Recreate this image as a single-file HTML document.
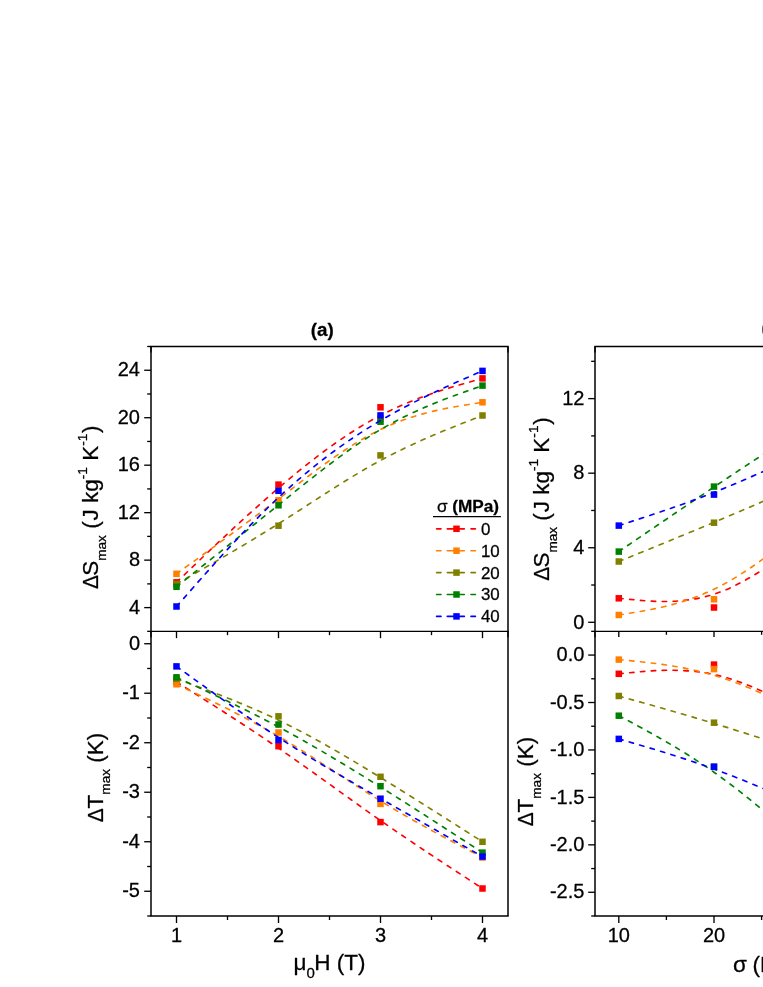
<!DOCTYPE html>
<html><head><meta charset="utf-8"><title>chart</title>
<style>html,body{margin:0;padding:0;background:#fff;}body{width:763px;height:987px;position:relative;overflow:hidden;font-family:"Liberation Sans",sans-serif;}</style>
</head><body>
<svg width="763" height="987" viewBox="0 0 763 987" style="position:absolute;left:0;top:0;will-change:transform;font-family:'Liberation Sans',sans-serif"><style>text{stroke:#000;stroke-width:0.28px;stroke-linejoin:round}</style>
<path d="M176.50,582.30 C176.50,582.30 176.50,582.30 193.50,566.02 C210.50,549.73 244.50,517.17 278.50,488.00 C312.50,458.83 346.50,433.07 380.50,415.37 C414.50,397.67 448.50,388.03 465.50,383.22 C482.50,378.40 482.50,378.40 482.50,378.40" fill="none" stroke="#FF0000" stroke-width="1.65" stroke-linecap="round" stroke-dasharray="4.4 6.5"/>
<rect x="173.25" y="579.05" width="6.5" height="6.5" fill="#FF0000"/>
<rect x="275.25" y="481.35" width="6.5" height="6.5" fill="#FF0000"/>
<rect x="377.25" y="404.05" width="6.5" height="6.5" fill="#FF0000"/>
<rect x="479.25" y="375.15" width="6.5" height="6.5" fill="#FF0000"/>
<path d="M176.50,573.80 C176.50,573.80 176.50,573.80 193.50,561.55 C210.50,549.30 244.50,524.80 278.50,498.93 C312.50,473.07 346.50,445.83 380.50,429.50 C414.50,413.17 448.50,407.73 465.50,405.02 C482.50,402.30 482.50,402.30 482.50,402.30" fill="none" stroke="#FF8000" stroke-width="1.65" stroke-linecap="round" stroke-dasharray="4.4 6.5"/>
<rect x="173.25" y="570.55" width="6.5" height="6.5" fill="#FF8000"/>
<rect x="275.25" y="497.05" width="6.5" height="6.5" fill="#FF8000"/>
<rect x="377.25" y="415.35" width="6.5" height="6.5" fill="#FF8000"/>
<rect x="479.25" y="399.05" width="6.5" height="6.5" fill="#FF8000"/>
<path d="M176.50,584.00 C176.50,584.00 176.50,584.00 193.50,574.28 C210.50,564.57 244.50,545.13 278.50,523.70 C312.50,502.27 346.50,478.83 380.50,460.47 C414.50,442.10 448.50,428.80 465.50,422.15 C482.50,415.50 482.50,415.50 482.50,415.50" fill="none" stroke="#808000" stroke-width="1.65" stroke-linecap="round" stroke-dasharray="4.4 6.5"/>
<rect x="173.25" y="580.75" width="6.5" height="6.5" fill="#808000"/>
<rect x="275.25" y="522.45" width="6.5" height="6.5" fill="#808000"/>
<rect x="377.25" y="452.15" width="6.5" height="6.5" fill="#808000"/>
<rect x="479.25" y="412.25" width="6.5" height="6.5" fill="#808000"/>
<path d="M176.50,586.80 C176.50,586.80 176.50,586.80 193.50,573.22 C210.50,559.63 244.50,532.47 278.50,504.95 C312.50,477.43 346.50,449.57 380.50,429.62 C414.50,409.67 448.50,397.63 465.50,391.62 C482.50,385.60 482.50,385.60 482.50,385.60" fill="none" stroke="#008000" stroke-width="1.65" stroke-linecap="round" stroke-dasharray="4.4 6.5"/>
<rect x="173.25" y="583.55" width="6.5" height="6.5" fill="#008000"/>
<rect x="275.25" y="502.05" width="6.5" height="6.5" fill="#008000"/>
<rect x="377.25" y="418.45" width="6.5" height="6.5" fill="#008000"/>
<rect x="479.25" y="382.35" width="6.5" height="6.5" fill="#008000"/>
<path d="M176.50,606.50 C176.50,606.50 176.50,606.50 193.50,587.22 C210.50,567.93 244.50,529.37 278.50,497.52 C312.50,465.67 346.50,440.53 380.50,420.55 C414.50,400.57 448.50,385.73 465.50,378.32 C482.50,370.90 482.50,370.90 482.50,370.90" fill="none" stroke="#0000FF" stroke-width="1.65" stroke-linecap="round" stroke-dasharray="4.4 6.5"/>
<rect x="173.25" y="603.25" width="6.5" height="6.5" fill="#0000FF"/>
<rect x="275.25" y="487.55" width="6.5" height="6.5" fill="#0000FF"/>
<rect x="377.25" y="412.15" width="6.5" height="6.5" fill="#0000FF"/>
<rect x="479.25" y="367.65" width="6.5" height="6.5" fill="#0000FF"/>
<path d="M176.50,682.00 C176.50,682.00 176.50,682.00 193.50,692.70 C210.50,703.40 244.50,724.80 278.50,748.15 C312.50,771.50 346.50,796.80 380.50,820.52 C414.50,844.23 448.50,866.37 465.50,877.43 C482.50,888.50 482.50,888.50 482.50,888.50" fill="none" stroke="#FF0000" stroke-width="1.65" stroke-linecap="round" stroke-dasharray="4.4 6.5"/>
<rect x="173.25" y="678.75" width="6.5" height="6.5" fill="#FF0000"/>
<rect x="275.25" y="742.95" width="6.5" height="6.5" fill="#FF0000"/>
<rect x="377.25" y="818.85" width="6.5" height="6.5" fill="#FF0000"/>
<rect x="479.25" y="885.25" width="6.5" height="6.5" fill="#FF0000"/>
<path d="M176.50,684.30 C176.50,684.30 176.50,684.30 193.50,692.33 C210.50,700.37 244.50,716.43 278.50,736.37 C312.50,756.30 346.50,780.10 380.50,800.93 C414.50,821.77 448.50,839.63 465.50,848.57 C482.50,857.50 482.50,857.50 482.50,857.50" fill="none" stroke="#FF8000" stroke-width="1.65" stroke-linecap="round" stroke-dasharray="4.4 6.5"/>
<rect x="173.25" y="681.05" width="6.5" height="6.5" fill="#FF8000"/>
<rect x="275.25" y="729.25" width="6.5" height="6.5" fill="#FF8000"/>
<rect x="377.25" y="800.65" width="6.5" height="6.5" fill="#FF8000"/>
<rect x="479.25" y="854.25" width="6.5" height="6.5" fill="#FF8000"/>
<path d="M176.50,678.85 C176.50,678.85 176.50,678.85 193.50,685.09 C210.50,691.33 244.50,703.82 278.50,720.14 C312.50,736.47 346.50,756.63 380.50,777.55 C414.50,798.47 448.50,820.13 465.50,830.97 C482.50,841.80 482.50,841.80 482.50,841.80" fill="none" stroke="#808000" stroke-width="1.65" stroke-linecap="round" stroke-dasharray="4.4 6.5"/>
<rect x="173.25" y="675.60" width="6.5" height="6.5" fill="#808000"/>
<rect x="275.25" y="713.05" width="6.5" height="6.5" fill="#808000"/>
<rect x="377.25" y="773.55" width="6.5" height="6.5" fill="#808000"/>
<rect x="479.25" y="838.55" width="6.5" height="6.5" fill="#808000"/>
<path d="M176.50,677.30 C176.50,677.30 176.50,677.30 193.50,685.17 C210.50,693.03 244.50,708.77 278.50,726.92 C312.50,745.07 346.50,765.63 380.50,786.98 C414.50,808.33 448.50,830.47 465.50,841.53 C482.50,852.60 482.50,852.60 482.50,852.60" fill="none" stroke="#008000" stroke-width="1.65" stroke-linecap="round" stroke-dasharray="4.4 6.5"/>
<rect x="173.25" y="674.05" width="6.5" height="6.5" fill="#008000"/>
<rect x="275.25" y="721.25" width="6.5" height="6.5" fill="#008000"/>
<rect x="377.25" y="782.95" width="6.5" height="6.5" fill="#008000"/>
<rect x="479.25" y="849.35" width="6.5" height="6.5" fill="#008000"/>
<path d="M176.50,666.40 C176.50,666.40 176.50,666.40 193.50,678.67 C210.50,690.93 244.50,715.47 278.50,737.52 C312.50,759.57 346.50,779.13 380.50,798.57 C414.50,818.00 448.50,837.30 465.50,846.95 C482.50,856.60 482.50,856.60 482.50,856.60" fill="none" stroke="#0000FF" stroke-width="1.65" stroke-linecap="round" stroke-dasharray="4.4 6.5"/>
<rect x="173.25" y="663.15" width="6.5" height="6.5" fill="#0000FF"/>
<rect x="275.25" y="736.75" width="6.5" height="6.5" fill="#0000FF"/>
<rect x="377.25" y="795.45" width="6.5" height="6.5" fill="#0000FF"/>
<rect x="479.25" y="853.35" width="6.5" height="6.5" fill="#0000FF"/>
<path d="M618.80,598.30 C618.80,598.30 618.80,598.30 634.67,599.83 C650.53,601.37 682.27,604.43 714.00,594.18 C745.73,583.92 777.47,560.33 809.20,536.75 C840.93,513.17 872.67,489.58 888.53,477.79 C904.40,466.00 904.40,466.00 904.40,466.00" fill="none" stroke="#FF0000" stroke-width="1.65" stroke-linecap="round" stroke-dasharray="4.4 6.5"/>
<rect x="615.55" y="595.05" width="6.5" height="6.5" fill="#FF0000"/>
<rect x="710.75" y="604.25" width="6.5" height="6.5" fill="#FF0000"/>
<path d="M618.80,615.00 C618.80,615.00 618.80,615.00 634.67,612.38 C650.53,609.77 682.27,604.53 714.00,589.25 C745.73,573.97 777.47,548.63 809.20,523.30 C840.93,497.97 872.67,472.63 888.53,459.97 C904.40,447.30 904.40,447.30 904.40,447.30" fill="none" stroke="#FF8000" stroke-width="1.65" stroke-linecap="round" stroke-dasharray="4.4 6.5"/>
<rect x="615.55" y="611.75" width="6.5" height="6.5" fill="#FF8000"/>
<rect x="710.75" y="596.05" width="6.5" height="6.5" fill="#FF8000"/>
<path d="M618.80,561.50 C618.80,561.50 618.80,561.50 634.67,555.03 C650.53,548.57 682.27,535.63 714.00,522.29 C745.73,508.95 777.47,495.20 809.20,481.45 C840.93,467.70 872.67,453.95 888.53,447.07 C904.40,440.20 904.40,440.20 904.40,440.20" fill="none" stroke="#808000" stroke-width="1.65" stroke-linecap="round" stroke-dasharray="4.4 6.5"/>
<rect x="615.55" y="558.25" width="6.5" height="6.5" fill="#808000"/>
<rect x="710.75" y="519.45" width="6.5" height="6.5" fill="#808000"/>
<path d="M618.80,551.60 C618.80,551.60 618.80,551.60 634.67,540.77 C650.53,529.93 682.27,508.27 714.00,487.02 C745.73,465.77 777.47,444.93 809.20,424.10 C840.93,403.27 872.67,382.43 888.53,372.02 C904.40,361.60 904.40,361.60 904.40,361.60" fill="none" stroke="#008000" stroke-width="1.65" stroke-linecap="round" stroke-dasharray="4.4 6.5"/>
<rect x="615.55" y="548.35" width="6.5" height="6.5" fill="#008000"/>
<rect x="710.75" y="483.35" width="6.5" height="6.5" fill="#008000"/>
<path d="M618.80,525.60 C618.80,525.60 618.80,525.60 634.67,520.43 C650.53,515.27 682.27,504.93 714.00,492.39 C745.73,479.85 777.47,465.10 809.20,450.35 C840.93,435.60 872.67,420.85 888.53,413.47 C904.40,406.10 904.40,406.10 904.40,406.10" fill="none" stroke="#0000FF" stroke-width="1.65" stroke-linecap="round" stroke-dasharray="4.4 6.5"/>
<rect x="615.55" y="522.35" width="6.5" height="6.5" fill="#0000FF"/>
<rect x="710.75" y="491.35" width="6.5" height="6.5" fill="#0000FF"/>
<path d="M618.80,673.80 C618.80,673.80 618.80,673.80 634.67,672.27 C650.53,670.73 682.27,667.67 714.00,674.51 C745.73,681.35 777.47,698.10 809.20,714.85 C840.93,731.60 872.67,748.35 888.53,756.73 C904.40,765.10 904.40,765.10 904.40,765.10" fill="none" stroke="#FF0000" stroke-width="1.65" stroke-linecap="round" stroke-dasharray="4.4 6.5"/>
<rect x="615.55" y="670.55" width="6.5" height="6.5" fill="#FF0000"/>
<rect x="710.75" y="661.35" width="6.5" height="6.5" fill="#FF0000"/>
<path d="M618.80,659.60 C618.80,659.60 618.80,659.60 634.67,661.18 C650.53,662.77 682.27,665.93 714.00,675.31 C745.73,684.68 777.47,700.27 809.20,715.85 C840.93,731.43 872.67,747.02 888.53,754.81 C904.40,762.60 904.40,762.60 904.40,762.60" fill="none" stroke="#FF8000" stroke-width="1.65" stroke-linecap="round" stroke-dasharray="4.4 6.5"/>
<rect x="615.55" y="656.35" width="6.5" height="6.5" fill="#FF8000"/>
<rect x="710.75" y="665.85" width="6.5" height="6.5" fill="#FF8000"/>
<path d="M618.80,696.00 C618.80,696.00 618.80,696.00 634.67,700.45 C650.53,704.90 682.27,713.80 714.00,723.46 C745.73,733.12 777.47,743.53 809.20,753.95 C840.93,764.37 872.67,774.78 888.53,779.99 C904.40,785.20 904.40,785.20 904.40,785.20" fill="none" stroke="#808000" stroke-width="1.65" stroke-linecap="round" stroke-dasharray="4.4 6.5"/>
<rect x="615.55" y="692.75" width="6.5" height="6.5" fill="#808000"/>
<rect x="710.75" y="719.45" width="6.5" height="6.5" fill="#808000"/>
<path d="M618.80,715.70 C618.80,715.70 618.80,715.70 634.67,724.23 C650.53,732.77 682.27,749.83 714.00,772.24 C745.73,794.65 777.47,822.40 809.20,850.15 C840.93,877.90 872.67,905.65 888.53,919.52 C904.40,933.40 904.40,933.40 904.40,933.40" fill="none" stroke="#008000" stroke-width="1.65" stroke-linecap="round" stroke-dasharray="4.4 6.5"/>
<rect x="615.55" y="712.45" width="6.5" height="6.5" fill="#008000"/>
<rect x="710.75" y="763.65" width="6.5" height="6.5" fill="#008000"/>
<path d="M618.80,738.90 C618.80,738.90 618.80,738.90 634.67,743.53 C650.53,748.17 682.27,757.43 714.00,769.03 C745.73,780.62 777.47,794.53 809.20,808.45 C840.93,822.37 872.67,836.28 888.53,843.24 C904.40,850.20 904.40,850.20 904.40,850.20" fill="none" stroke="#0000FF" stroke-width="1.65" stroke-linecap="round" stroke-dasharray="4.4 6.5"/>
<rect x="615.55" y="735.65" width="6.5" height="6.5" fill="#0000FF"/>
<rect x="710.75" y="763.45" width="6.5" height="6.5" fill="#0000FF"/>
<line x1="150.34" y1="346.50" x2="508.67" y2="346.50" stroke="#000" stroke-width="1.33"/>
<line x1="150.34" y1="631.35" x2="508.67" y2="631.35" stroke="#000" stroke-width="1.33"/>
<line x1="150.34" y1="916.00" x2="508.67" y2="916.00" stroke="#000" stroke-width="1.33"/>
<line x1="151.00" y1="346.50" x2="151.00" y2="916.00" stroke="#000" stroke-width="1.5"/>
<line x1="508.00" y1="346.50" x2="508.00" y2="916.00" stroke="#000" stroke-width="1.5"/>
<line x1="594.34" y1="346.50" x2="765.00" y2="346.50" stroke="#000" stroke-width="1.33"/>
<line x1="594.34" y1="631.35" x2="765.00" y2="631.35" stroke="#000" stroke-width="1.33"/>
<line x1="594.34" y1="916.00" x2="765.00" y2="916.00" stroke="#000" stroke-width="1.33"/>
<line x1="595.00" y1="346.50" x2="595.00" y2="916.00" stroke="#000" stroke-width="1.5"/>
<line x1="151.00" y1="346.50" x2="151.00" y2="352.50" stroke="#000" stroke-width="1.33"/>
<line x1="151.00" y1="631.35" x2="151.00" y2="637.35" stroke="#000" stroke-width="1.33"/>
<line x1="508.00" y1="346.50" x2="508.00" y2="352.50" stroke="#000" stroke-width="1.33"/>
<line x1="508.00" y1="631.35" x2="508.00" y2="637.35" stroke="#000" stroke-width="1.33"/>
<line x1="595.00" y1="346.50" x2="595.00" y2="352.50" stroke="#000" stroke-width="1.33"/>
<line x1="595.00" y1="631.35" x2="595.00" y2="637.35" stroke="#000" stroke-width="1.33"/>
<line x1="147.20" y1="631.35" x2="151.00" y2="631.35" stroke="#000" stroke-width="1.33"/>
<line x1="144.20" y1="607.61" x2="151.00" y2="607.61" stroke="#000" stroke-width="1.33"/>
<text x="140.00" y="613.81" font-size="20.0" text-anchor="end">4</text>
<line x1="147.20" y1="583.88" x2="151.00" y2="583.88" stroke="#000" stroke-width="1.33"/>
<line x1="144.20" y1="560.14" x2="151.00" y2="560.14" stroke="#000" stroke-width="1.33"/>
<text x="140.00" y="566.34" font-size="20.0" text-anchor="end">8</text>
<line x1="147.20" y1="536.40" x2="151.00" y2="536.40" stroke="#000" stroke-width="1.33"/>
<line x1="144.20" y1="512.66" x2="151.00" y2="512.66" stroke="#000" stroke-width="1.33"/>
<text x="140.00" y="518.86" font-size="20.0" text-anchor="end">12</text>
<line x1="147.20" y1="488.93" x2="151.00" y2="488.93" stroke="#000" stroke-width="1.33"/>
<line x1="144.20" y1="465.19" x2="151.00" y2="465.19" stroke="#000" stroke-width="1.33"/>
<text x="140.00" y="471.39" font-size="20.0" text-anchor="end">16</text>
<line x1="147.20" y1="441.45" x2="151.00" y2="441.45" stroke="#000" stroke-width="1.33"/>
<line x1="144.20" y1="417.71" x2="151.00" y2="417.71" stroke="#000" stroke-width="1.33"/>
<text x="140.00" y="423.91" font-size="20.0" text-anchor="end">20</text>
<line x1="147.20" y1="393.98" x2="151.00" y2="393.98" stroke="#000" stroke-width="1.33"/>
<line x1="144.20" y1="370.24" x2="151.00" y2="370.24" stroke="#000" stroke-width="1.33"/>
<text x="140.00" y="376.44" font-size="20.0" text-anchor="end">24</text>
<line x1="147.20" y1="346.50" x2="151.00" y2="346.50" stroke="#000" stroke-width="1.33"/>
<line x1="144.20" y1="643.73" x2="151.00" y2="643.73" stroke="#000" stroke-width="1.33"/>
<text x="140.00" y="649.93" font-size="20.0" text-anchor="end">0</text>
<line x1="147.20" y1="668.48" x2="151.00" y2="668.48" stroke="#000" stroke-width="1.33"/>
<line x1="144.20" y1="693.23" x2="151.00" y2="693.23" stroke="#000" stroke-width="1.33"/>
<text x="140.00" y="699.43" font-size="20.0" text-anchor="end">-1</text>
<line x1="147.20" y1="717.98" x2="151.00" y2="717.98" stroke="#000" stroke-width="1.33"/>
<line x1="144.20" y1="742.73" x2="151.00" y2="742.73" stroke="#000" stroke-width="1.33"/>
<text x="140.00" y="748.93" font-size="20.0" text-anchor="end">-2</text>
<line x1="147.20" y1="767.49" x2="151.00" y2="767.49" stroke="#000" stroke-width="1.33"/>
<line x1="144.20" y1="792.24" x2="151.00" y2="792.24" stroke="#000" stroke-width="1.33"/>
<text x="140.00" y="798.44" font-size="20.0" text-anchor="end">-3</text>
<line x1="147.20" y1="816.99" x2="151.00" y2="816.99" stroke="#000" stroke-width="1.33"/>
<line x1="144.20" y1="841.74" x2="151.00" y2="841.74" stroke="#000" stroke-width="1.33"/>
<text x="140.00" y="847.94" font-size="20.0" text-anchor="end">-4</text>
<line x1="147.20" y1="866.50" x2="151.00" y2="866.50" stroke="#000" stroke-width="1.33"/>
<line x1="144.20" y1="891.25" x2="151.00" y2="891.25" stroke="#000" stroke-width="1.33"/>
<text x="140.00" y="897.45" font-size="20.0" text-anchor="end">-5</text>
<line x1="147.20" y1="916.00" x2="151.00" y2="916.00" stroke="#000" stroke-width="1.33"/>
<line x1="176.50" y1="631.35" x2="176.50" y2="638.15" stroke="#000" stroke-width="1.33"/>
<line x1="176.50" y1="916.00" x2="176.50" y2="923.00" stroke="#000" stroke-width="1.33"/>
<text x="176.50" y="941.50" font-size="20.0" text-anchor="middle">1</text>
<line x1="227.50" y1="631.35" x2="227.50" y2="635.15" stroke="#000" stroke-width="1.33"/>
<line x1="227.50" y1="916.00" x2="227.50" y2="920.00" stroke="#000" stroke-width="1.33"/>
<line x1="278.50" y1="631.35" x2="278.50" y2="638.15" stroke="#000" stroke-width="1.33"/>
<line x1="278.50" y1="916.00" x2="278.50" y2="923.00" stroke="#000" stroke-width="1.33"/>
<text x="278.50" y="941.50" font-size="20.0" text-anchor="middle">2</text>
<line x1="329.50" y1="631.35" x2="329.50" y2="635.15" stroke="#000" stroke-width="1.33"/>
<line x1="329.50" y1="916.00" x2="329.50" y2="920.00" stroke="#000" stroke-width="1.33"/>
<line x1="380.50" y1="631.35" x2="380.50" y2="638.15" stroke="#000" stroke-width="1.33"/>
<line x1="380.50" y1="916.00" x2="380.50" y2="923.00" stroke="#000" stroke-width="1.33"/>
<text x="380.50" y="941.50" font-size="20.0" text-anchor="middle">3</text>
<line x1="431.50" y1="631.35" x2="431.50" y2="635.15" stroke="#000" stroke-width="1.33"/>
<line x1="431.50" y1="916.00" x2="431.50" y2="920.00" stroke="#000" stroke-width="1.33"/>
<line x1="482.50" y1="631.35" x2="482.50" y2="638.15" stroke="#000" stroke-width="1.33"/>
<line x1="482.50" y1="916.00" x2="482.50" y2="923.00" stroke="#000" stroke-width="1.33"/>
<text x="482.50" y="941.50" font-size="20.0" text-anchor="middle">4</text>
<line x1="588.20" y1="622.30" x2="595.00" y2="622.30" stroke="#000" stroke-width="1.33"/>
<text x="584.40" y="628.50" font-size="20.0" text-anchor="end">0</text>
<line x1="591.20" y1="585.02" x2="595.00" y2="585.02" stroke="#000" stroke-width="1.33"/>
<line x1="588.20" y1="547.74" x2="595.00" y2="547.74" stroke="#000" stroke-width="1.33"/>
<text x="584.40" y="553.94" font-size="20.0" text-anchor="end">4</text>
<line x1="591.20" y1="510.46" x2="595.00" y2="510.46" stroke="#000" stroke-width="1.33"/>
<line x1="588.20" y1="473.18" x2="595.00" y2="473.18" stroke="#000" stroke-width="1.33"/>
<text x="584.40" y="479.38" font-size="20.0" text-anchor="end">8</text>
<line x1="591.20" y1="435.90" x2="595.00" y2="435.90" stroke="#000" stroke-width="1.33"/>
<line x1="588.20" y1="398.62" x2="595.00" y2="398.62" stroke="#000" stroke-width="1.33"/>
<text x="584.40" y="404.82" font-size="20.0" text-anchor="end">12</text>
<line x1="591.20" y1="361.34" x2="595.00" y2="361.34" stroke="#000" stroke-width="1.33"/>
<line x1="591.20" y1="631.35" x2="595.00" y2="631.35" stroke="#000" stroke-width="1.33"/>
<line x1="588.20" y1="655.07" x2="595.00" y2="655.07" stroke="#000" stroke-width="1.33"/>
<text x="584.40" y="661.27" font-size="20.0" text-anchor="end">0.0</text>
<line x1="591.20" y1="678.79" x2="595.00" y2="678.79" stroke="#000" stroke-width="1.33"/>
<line x1="588.20" y1="702.51" x2="595.00" y2="702.51" stroke="#000" stroke-width="1.33"/>
<text x="584.40" y="708.71" font-size="20.0" text-anchor="end">-0.5</text>
<line x1="591.20" y1="726.23" x2="595.00" y2="726.23" stroke="#000" stroke-width="1.33"/>
<line x1="588.20" y1="749.95" x2="595.00" y2="749.95" stroke="#000" stroke-width="1.33"/>
<text x="584.40" y="756.15" font-size="20.0" text-anchor="end">-1.0</text>
<line x1="591.20" y1="773.67" x2="595.00" y2="773.67" stroke="#000" stroke-width="1.33"/>
<line x1="588.20" y1="797.40" x2="595.00" y2="797.40" stroke="#000" stroke-width="1.33"/>
<text x="584.40" y="803.60" font-size="20.0" text-anchor="end">-1.5</text>
<line x1="591.20" y1="821.12" x2="595.00" y2="821.12" stroke="#000" stroke-width="1.33"/>
<line x1="588.20" y1="844.84" x2="595.00" y2="844.84" stroke="#000" stroke-width="1.33"/>
<text x="584.40" y="851.04" font-size="20.0" text-anchor="end">-2.0</text>
<line x1="591.20" y1="868.56" x2="595.00" y2="868.56" stroke="#000" stroke-width="1.33"/>
<line x1="588.20" y1="892.28" x2="595.00" y2="892.28" stroke="#000" stroke-width="1.33"/>
<text x="584.40" y="898.48" font-size="20.0" text-anchor="end">-2.5</text>
<line x1="591.20" y1="916.00" x2="595.00" y2="916.00" stroke="#000" stroke-width="1.33"/>
<line x1="618.80" y1="631.35" x2="618.80" y2="637.00" stroke="#000" stroke-width="1.33"/>
<line x1="618.80" y1="916.00" x2="618.80" y2="923.00" stroke="#000" stroke-width="1.33"/>
<text x="618.80" y="941.50" font-size="20.0" text-anchor="middle">10</text>
<line x1="666.40" y1="631.35" x2="666.40" y2="634.80" stroke="#000" stroke-width="1.33"/>
<line x1="666.40" y1="916.00" x2="666.40" y2="920.00" stroke="#000" stroke-width="1.33"/>
<line x1="714.00" y1="631.35" x2="714.00" y2="637.00" stroke="#000" stroke-width="1.33"/>
<line x1="714.00" y1="916.00" x2="714.00" y2="923.00" stroke="#000" stroke-width="1.33"/>
<text x="714.00" y="941.50" font-size="20.0" text-anchor="middle">20</text>
<line x1="761.60" y1="631.35" x2="761.60" y2="634.80" stroke="#000" stroke-width="1.33"/>
<line x1="761.60" y1="916.00" x2="761.60" y2="920.00" stroke="#000" stroke-width="1.33"/>
<text x="322.2" y="335.9" font-size="18.8" font-weight="bold" text-anchor="middle">(a)</text>
<text x="761.5" y="333.9" font-size="18.8" font-weight="bold">(b)</text>
<text x="293.6" y="969.7" font-size="22.5">μ<tspan font-size="15" dy="8.4">0</tspan><tspan dy="-8.4" dx="-0.6">H (T)</tspan></text>
<text x="733.0" y="971.7" font-size="22.5">σ <tspan dx="-0.6">(MPa)</tspan></text>
<text transform="translate(97.7,588.92) rotate(-90) scale(0.928,1)" font-size="22.5">Δ</text>
<text transform="translate(97.7,575.80) rotate(-90)" font-size="22.5">S<tspan font-size="13.6" dy="8.3">max</tspan><tspan dy="-8.3"> (</tspan><tspan dx="0.9">J kg</tspan><tspan font-size="13.6" dy="-10.9">-1</tspan><tspan dy="10.9"> K</tspan><tspan font-size="13.6" dy="-10.9">-1</tspan><tspan dy="10.9" dx="0.8">)</tspan></text>
<text transform="translate(102.7,822.22) rotate(-90) scale(0.928,1)" font-size="22.5">Δ</text>
<text transform="translate(102.7,808.40) rotate(-90)" font-size="22.5">T<tspan font-size="13.6" dy="7.4">max</tspan><tspan dy="-7.4"> (K)</tspan></text>
<text transform="translate(549.0,580.72) rotate(-90) scale(0.928,1)" font-size="22.5">Δ</text>
<text transform="translate(549.0,567.60) rotate(-90)" font-size="22.5">S<tspan font-size="13.6" dy="8.3">max</tspan><tspan dy="-8.3"> (</tspan><tspan dx="0.9">J kg</tspan><tspan font-size="13.6" dy="-10.9">-1</tspan><tspan dy="10.9"> K</tspan><tspan font-size="13.6" dy="-10.9">-1</tspan><tspan dy="10.9" dx="0.8">)</tspan></text>
<text transform="translate(533.1,826.32) rotate(-90) scale(0.928,1)" font-size="22.5">Δ</text>
<text transform="translate(533.1,812.50) rotate(-90)" font-size="22.5">T<tspan font-size="13.6" dy="7.4">max</tspan><tspan dy="-7.4"> (K)</tspan></text>
<text x="436.9" y="512.3" font-size="17.2" font-weight="bold"><tspan font-weight="normal">σ</tspan> (MPa)</text>
<line x1="433.00" y1="516.50" x2="500.90" y2="516.50" stroke="#000" stroke-width="1.25"/>
<line x1="436.6" y1="528.80" x2="441.0" y2="528.80" stroke="#FF0000" stroke-width="1.65" stroke-linecap="round"/>
<line x1="447.3" y1="528.80" x2="453.5" y2="528.80" stroke="#FF0000" stroke-width="1.65" stroke-linecap="round"/>
<line x1="459.5" y1="528.80" x2="464.3" y2="528.80" stroke="#FF0000" stroke-width="1.65" stroke-linecap="round"/>
<line x1="471.0" y1="528.80" x2="475.4" y2="528.80" stroke="#FF0000" stroke-width="1.65" stroke-linecap="round"/>
<rect x="453.25" y="525.55" width="6.5" height="6.5" fill="#FF0000"/>
<text x="480.9" y="534.75" font-size="16.9">0</text>
<line x1="436.6" y1="550.70" x2="441.0" y2="550.70" stroke="#FF8000" stroke-width="1.65" stroke-linecap="round"/>
<line x1="447.3" y1="550.70" x2="453.5" y2="550.70" stroke="#FF8000" stroke-width="1.65" stroke-linecap="round"/>
<line x1="459.5" y1="550.70" x2="464.3" y2="550.70" stroke="#FF8000" stroke-width="1.65" stroke-linecap="round"/>
<line x1="471.0" y1="550.70" x2="475.4" y2="550.70" stroke="#FF8000" stroke-width="1.65" stroke-linecap="round"/>
<rect x="453.25" y="547.45" width="6.5" height="6.5" fill="#FF8000"/>
<text x="480.9" y="556.65" font-size="16.9">10</text>
<line x1="436.6" y1="572.60" x2="441.0" y2="572.60" stroke="#808000" stroke-width="1.65" stroke-linecap="round"/>
<line x1="447.3" y1="572.60" x2="453.5" y2="572.60" stroke="#808000" stroke-width="1.65" stroke-linecap="round"/>
<line x1="459.5" y1="572.60" x2="464.3" y2="572.60" stroke="#808000" stroke-width="1.65" stroke-linecap="round"/>
<line x1="471.0" y1="572.60" x2="475.4" y2="572.60" stroke="#808000" stroke-width="1.65" stroke-linecap="round"/>
<rect x="453.25" y="569.35" width="6.5" height="6.5" fill="#808000"/>
<text x="480.9" y="578.55" font-size="16.9">20</text>
<line x1="436.6" y1="594.50" x2="441.0" y2="594.50" stroke="#008000" stroke-width="1.65" stroke-linecap="round"/>
<line x1="447.3" y1="594.50" x2="453.5" y2="594.50" stroke="#008000" stroke-width="1.65" stroke-linecap="round"/>
<line x1="459.5" y1="594.50" x2="464.3" y2="594.50" stroke="#008000" stroke-width="1.65" stroke-linecap="round"/>
<line x1="471.0" y1="594.50" x2="475.4" y2="594.50" stroke="#008000" stroke-width="1.65" stroke-linecap="round"/>
<rect x="453.25" y="591.25" width="6.5" height="6.5" fill="#008000"/>
<text x="480.9" y="600.45" font-size="16.9">30</text>
<line x1="436.6" y1="616.40" x2="441.0" y2="616.40" stroke="#0000FF" stroke-width="1.65" stroke-linecap="round"/>
<line x1="447.3" y1="616.40" x2="453.5" y2="616.40" stroke="#0000FF" stroke-width="1.65" stroke-linecap="round"/>
<line x1="459.5" y1="616.40" x2="464.3" y2="616.40" stroke="#0000FF" stroke-width="1.65" stroke-linecap="round"/>
<line x1="471.0" y1="616.40" x2="475.4" y2="616.40" stroke="#0000FF" stroke-width="1.65" stroke-linecap="round"/>
<rect x="453.25" y="613.15" width="6.5" height="6.5" fill="#0000FF"/>
<text x="480.9" y="622.35" font-size="16.9">40</text>
</svg>
</body></html>
